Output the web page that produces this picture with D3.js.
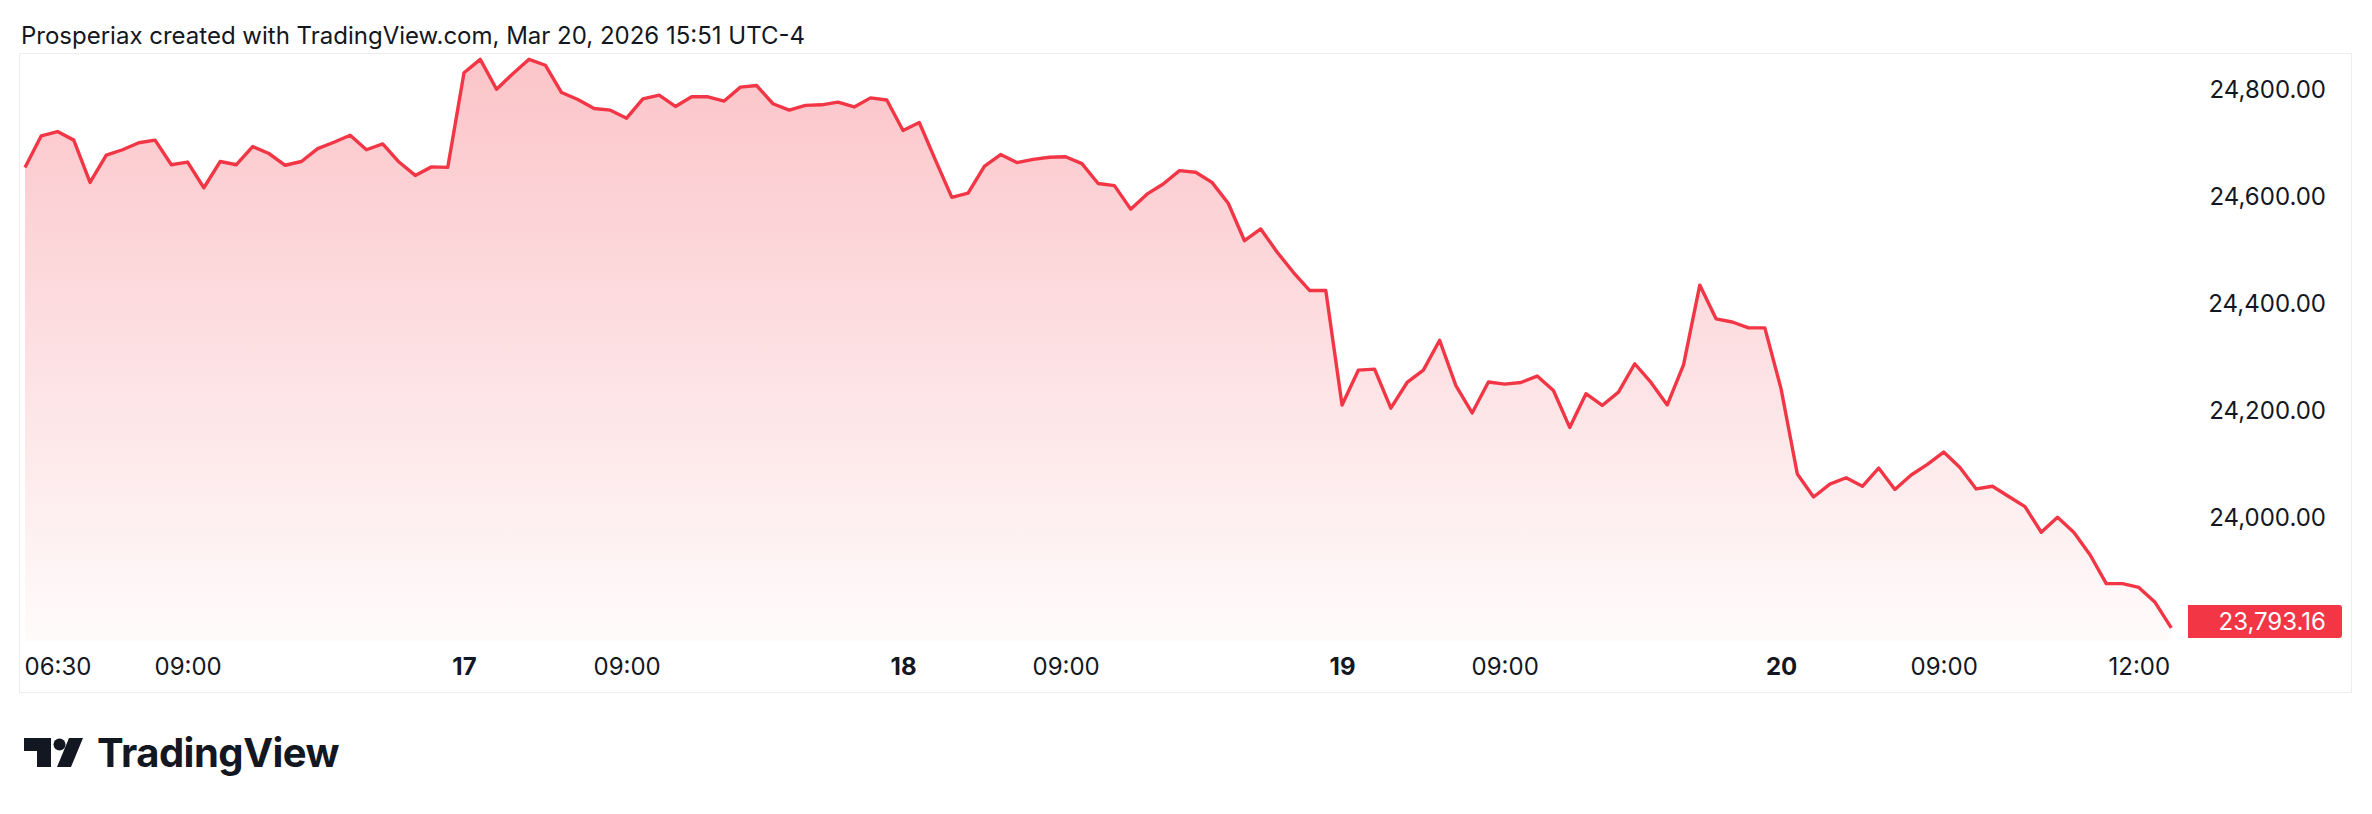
<!DOCTYPE html>
<html>
<head>
<meta charset="utf-8">
<script src="https://cdn.jsdelivr.net/npm/d3@7"></script>
<style>
  html, body { margin: 0; padding: 0; background: #ffffff; }
  svg { display: block; }
</style>
</head>
<body>
<div id="vis-chart"></div>
<script>
// Data --------------------------------------------------------------------------------------------------------------
const closeValues = [
  24654, 24713, 24721, 24705, 24626, 24677, 24687, 24700, 24705, 24659,
  24664, 24616, 24665, 24659, 24693, 24680, 24658, 24665, 24689, 24701,
  24714, 24687, 24698, 24664, 24639, 24655, 24654, 24831, 24856, 24800,
  24829, 24856, 24845, 24794, 24781, 24764, 24761, 24746, 24782, 24789,
  24768, 24786, 24786, 24778, 24804, 24807, 24773, 24761, 24770, 24771,
  24776, 24767, 24784, 24780, 24723, 24738, 24667, 24598, 24606, 24656,
  24678, 24663, 24669, 24673, 24674, 24661, 24624, 24620, 24576, 24604,
  24623, 24648, 24645, 24626, 24587, 24517, 24539, 24496, 24458, 24424,
  24424, 24210, 24275, 24277, 24204, 24252, 24275, 24331, 24246, 24195,
  24253, 24249, 24252, 24264, 24237, 24168, 24231, 24209, 24234, 24287,
  24252, 24210, 24285, 24434, 24371, 24365, 24354, 24354, 24240, 24081,
  24038, 24062, 24074, 24058, 24092, 24052, 24079, 24099, 24122, 24093,
  24053, 24058, 24039, 24020, 23972, 24000, 23972, 23930, 23876, 23876,
  23869, 23841, 23793.16
];

const timeTickIndex = [2, 10, 27, 37, 54, 64, 81, 91, 108, 118, 130];
const timeTickLabels = ["06:30", "09:00", "17", "09:00", "18", "09:00", "19", "09:00", "20", "09:00", "12:00"];

const priceTicks = [24000, 24200, 24400, 24600, 24800];

const headerText = "Prosperiax created with TradingView.com, Mar 20, 2026 15:51 UTC-4";

// Canvas ------------------------------------------------------------------------------------------------------------
const canvasWidth = 2372;
const canvasHeight = 814;

const frameLeft = 19.5;
const frameTop = 53.5;
const frameRight = 2351.5;
const frameBottom = 692.5;
const paneBottom = 641;

const lineColor = "#f23645";
const textColor = "#131722";
const fontFamily = "Inter, 'Noto Sans', sans-serif";

const svg = d3.select("#vis-chart")
  .append("svg")
  .attr("width", canvasWidth)
  .attr("height", canvasHeight)
  .attr("viewBox", [0, 0, canvasWidth, canvasHeight]);

svg.append("rect")
  .attr("width", canvasWidth)
  .attr("height", canvasHeight)
  .attr("fill", "#ffffff");

// Header
svg.append("text")
  .text(headerText)
  .attr("x", 21)
  .attr("y", 44)
  .style("font-family", fontFamily)
  .style("font-size", 24)
  .style("fill", textColor);

// Chart frame
svg.append("rect")
  .attr("x", frameLeft)
  .attr("y", frameTop)
  .attr("width", frameRight - frameLeft)
  .attr("height", frameBottom - frameTop)
  .attr("fill", "none")
  .attr("stroke", "#ededed")
  .attr("stroke-width", 1);

// Scales ------------------------------------------------------------------------------------------------------------
const xScale = d3.scaleLinear()
  .domain([0, closeValues.length - 1])
  .range([25, 25 + 16.26 * (closeValues.length - 1)]);

const yScale = d3.scaleLinear()
  .domain([24000, 24800])
  .range([517.3, 89.3]);

// Area + line -------------------------------------------------------------------------------------------------------
const defs = svg.append("defs");
const grad = defs.append("linearGradient")
  .attr("id", "areaFill")
  .attr("gradientUnits", "userSpaceOnUse")
  .attr("x1", 0).attr("x2", 0)
  .attr("y1", yScale(d3.max(closeValues)))
  .attr("y2", paneBottom);
grad.append("stop").attr("offset", "0%").attr("stop-color", lineColor).attr("stop-opacity", 0.29);
grad.append("stop").attr("offset", "100%").attr("stop-color", lineColor).attr("stop-opacity", 0.02);

const area = d3.area()
  .x((d, i) => xScale(i))
  .y0(paneBottom)
  .y1(d => yScale(d));

const line = d3.line()
  .x((d, i) => xScale(i))
  .y(d => yScale(d));

svg.append("path")
  .datum(closeValues)
  .attr("d", area)
  .attr("fill", "url(#areaFill)");

svg.append("path")
  .datum(closeValues)
  .attr("d", line)
  .attr("fill", "none")
  .attr("stroke", lineColor)
  .attr("stroke-width", 3.4)
  .attr("stroke-linejoin", "round");

// Price scale -------------------------------------------------------------------------------------------------------
const priceFormat = d3.format(",.2f");
const priceAxis = svg.append("g")
  .attr("transform", "translate(2326, 0)")
  .call(d3.axisRight(yScale).tickValues(priceTicks).tickSize(0).tickPadding(0).tickFormat(priceFormat));
priceAxis.select(".domain").remove();
priceAxis.selectAll("text")
  .attr("x", 0)
  .attr("dy", "0.35em")
  .style("text-anchor", "end")
  .style("font-family", fontFamily)
  .style("font-size", 24)
  .style("fill", textColor);

// Last price label
const lastValue = closeValues[closeValues.length - 1];
const labelHeight = 33;
const labelY = Math.min(yScale(lastValue) - labelHeight / 2, paneBottom - 3 - labelHeight);
svg.append("path")
  .attr("d", "M2188," + labelY + "h151a3,3 0 0 1 3,3v" + (labelHeight - 6) + "a3,3 0 0 1 -3,3h-151z")
  .attr("fill", lineColor);
svg.append("text")
  .text(priceFormat(lastValue))
  .attr("x", 2326)
  .attr("y", labelY + labelHeight / 2)
  .attr("dy", "0.35em")
  .style("text-anchor", "end")
  .style("font-family", fontFamily)
  .style("font-size", 24)
  .style("fill", "#ffffff");

// Time scale --------------------------------------------------------------------------------------------------------
const timeAxis = svg.append("g")
  .attr("transform", "translate(0, 667)")
  .call(d3.axisBottom(xScale)
    .tickValues(timeTickIndex)
    .tickSize(0)
    .tickPadding(0)
    .tickFormat((d, i) => timeTickLabels[i]));
timeAxis.select(".domain").remove();
timeAxis.selectAll("text")
  .attr("y", 0)
  .attr("dy", "0.35em")
  .style("font-family", fontFamily)
  .style("font-size", 24)
  .style("font-weight", (d, i) => timeTickLabels[i].length <= 2 ? 700 : 400)
  .style("fill", textColor);

// Logo --------------------------------------------------------------------------------------------------------------
const logo = svg.append("g").attr("fill", textColor);
logo.append("path").attr("d", "M24,738H51V767H37V751H24Z");
logo.append("circle").attr("cx", 59.5).attr("cy", 744.5).attr("r", 6);
logo.append("path").attr("d", "M69,738H83L71,767H57Z");
logo.append("text")
  .text("TradingView")
  .attr("x", 97)
  .attr("y", 767)
  .style("font-family", fontFamily)
  .style("font-size", 40)
  .style("font-weight", 700)
  .style("letter-spacing", "-0.5px");
</script>
</body>
</html>
